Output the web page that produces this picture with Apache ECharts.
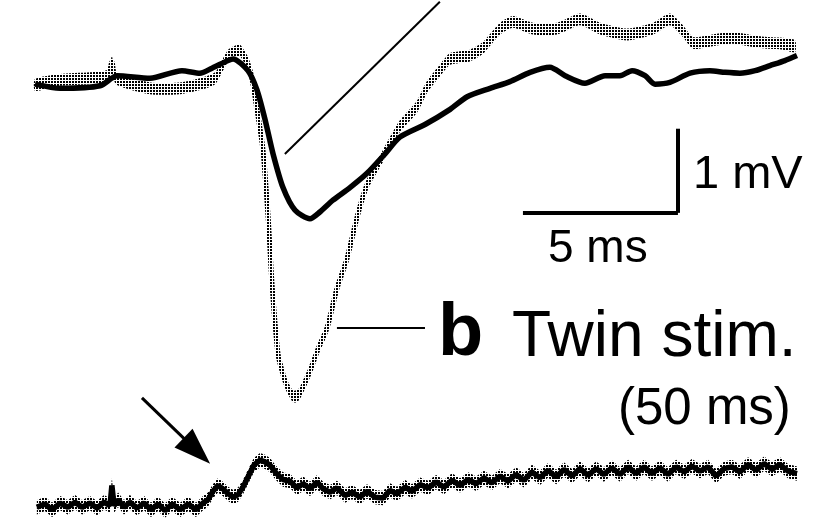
<!DOCTYPE html>
<html>
<head>
<meta charset="utf-8">
<script src="https://cdn.jsdelivr.net/npm/echarts@6/dist/echarts.min.js"></script>
<style>html,body{margin:0;padding:0;background:#fff}#c{width:839px;height:530px}</style>
</head>
<body>
<div id="c"></div>
<script>
// time in ms, potential in mV (lower trace drawn with a -5 mV offset)
var controlTrace = [[0,0],[0.81,-0.05],[2.10,-0.02],[2.65,0.10],[3.71,0.07],[4.74,0.16],[5.32,0.13],[5.71,0.19],[6.23,0.28],[6.39,0.30],[6.87,0.16],[7.16,-0.07],[7.42,-0.42],[7.68,-0.83],[8.00,-1.23],[8.39,-1.50],[8.87,-1.60],[9.19,-1.52],[9.61,-1.38],[10.16,-1.23],[10.71,-1.06],[11.29,-0.83],[11.77,-0.63],[12.58,-0.48],[13.39,-0.30],[13.94,-0.15],[14.68,-0.05],[15.32,0.03],[15.97,0.14],[16.61,0.20],[17.10,0.10],[17.74,0.01],[18.39,0.10],[18.87,0.10],[19.26,0.16],[19.68,0.10],[20.00,0.00],[20.48,0.02],[21.13,0.13],[21.77,0.16],[22.26,0.14],[22.74,0.13],[23.23,0.16],[23.71,0.22],[24.19,0.28],[24.58,0.34]];
var twinTrace = [[0,-0.01],[0.81,0.05],[1.77,0.07],[2.35,0.10],[2.48,0.26],[2.61,0.07],[3.71,-0.05],[4.68,-0.05],[5.32,0.00],[5.81,0.07],[6.23,0.34],[6.61,0.40],[6.94,0.16],[7.16,-0.30],[7.35,-0.77],[7.52,-1.58],[7.65,-2.40],[7.84,-3.21],[8.00,-3.45],[8.13,-3.59],[8.32,-3.71],[8.45,-3.71],[8.55,-3.67],[8.87,-3.41],[9.13,-3.15],[9.42,-2.90],[9.74,-2.43],[10.06,-2.08],[10.39,-1.58],[10.71,-1.20],[11.23,-0.85],[11.77,-0.50],[12.32,-0.27],[12.65,-0.03],[13.06,0.16],[13.39,0.30],[14.03,0.34],[14.45,0.43],[15.00,0.66],[15.42,0.74],[16.06,0.66],[16.84,0.66],[17.58,0.77],[18.23,0.66],[19.10,0.59],[19.94,0.66],[20.48,0.77],[20.90,0.63],[21.23,0.49],[22.00,0.53],[22.52,0.55],[23.16,0.51],[23.61,0.49],[24.13,0.48],[24.52,0.45]];
var lowerTrace = [[0.06,-5.03],[0.32,-4.99],[0.55,-5.06],[0.81,-4.98],[1.06,-5.03],[1.29,-4.97],[1.52,-5.03],[1.77,-4.98],[2.00,-5.04],[2.23,-4.97],[2.42,-5.01],[2.48,-4.77],[2.55,-5.01],[2.68,-4.94],[2.87,-5.03],[3.06,-4.97],[3.29,-5.04],[3.52,-4.98],[3.74,-5.06],[3.97,-4.99],[4.19,-5.07],[4.42,-4.99],[4.68,-5.06],[4.94,-4.99],[5.19,-5.06],[5.42,-4.98],[5.58,-4.94],[5.74,-4.84],[5.90,-4.77],[6.06,-4.81],[6.23,-4.87],[6.39,-4.91],[6.55,-4.88],[6.71,-4.79],[6.87,-4.67],[7.06,-4.53],[7.26,-4.47],[7.42,-4.49],[7.58,-4.53],[7.77,-4.62],[8.00,-4.70],[8.23,-4.72],[8.45,-4.80],[8.65,-4.75],[8.87,-4.81],[9.10,-4.73],[9.29,-4.81],[9.52,-4.85],[9.74,-4.80],[10.00,-4.89],[10.23,-4.85],[10.48,-4.91],[10.71,-4.84],[10.97,-4.91],[11.23,-4.92],[11.45,-4.83],[11.68,-4.87],[11.94,-4.79],[12.16,-4.84],[12.42,-4.76],[12.68,-4.80],[12.94,-4.73],[13.19,-4.79],[13.45,-4.71],[13.71,-4.77],[13.97,-4.70],[14.23,-4.75],[14.48,-4.68],[14.74,-4.74],[15.00,-4.66],[15.26,-4.72],[15.52,-4.64],[15.77,-4.71],[16.03,-4.61],[16.29,-4.68],[16.55,-4.59],[16.81,-4.67],[17.06,-4.58],[17.32,-4.66],[17.58,-4.57],[17.84,-4.65],[18.10,-4.57],[18.35,-4.64],[18.61,-4.56],[18.87,-4.64],[19.13,-4.55],[19.39,-4.63],[19.65,-4.55],[19.90,-4.63],[20.16,-4.56],[20.42,-4.64],[20.68,-4.55],[20.94,-4.61],[21.19,-4.54],[21.45,-4.60],[21.71,-4.55],[21.97,-4.66],[22.23,-4.57],[22.48,-4.55],[22.74,-4.61],[23.00,-4.52],[23.26,-4.59],[23.52,-4.51],[23.77,-4.58],[24.03,-4.52],[24.29,-4.60],[24.58,-4.63]];
// half-thickness (mV) of the noise envelope around each dotted trace
var twinNoise = 0.07;
var lowerNoise = 0.085;
// annotation anchors (ms, mV)
var scaleBarTime = [15.74, 20.74];
var scaleBarVolt = [-0.53, -1.53];
var pointerLine = [[8.06, -0.83], [13.06, 0.98]];
var labelLine = [[9.74, -2.90], [12.58, -2.90]];
var arrowLine = [[3.45, -3.73], [5.22, -4.36]];

var pc = document.createElement('canvas');
pc.width = 3; pc.height = 3;
var px = pc.getContext('2d');
px.fillStyle = '#fff'; px.fillRect(0,0,3,3);
px.fillStyle = '#000'; px.fillRect(0,0,2,2);
var stipple = {image: pc, repeat: 'repeat'};

function bandSeries(trace, half, smooth) {
  return {
    type: 'custom', coordinateSystem: 'cartesian2d', data: [[trace[0][0], trace[0][1]]],
    silent: true, clip: false,
    renderItem: function (params, api) {
      var pts = [], i;
      for (i = 0; i < trace.length; i++) pts.push(api.coord([trace[i][0], trace[i][1] + half]));
      for (i = trace.length - 1; i >= 0; i--) pts.push(api.coord([trace[i][0], trace[i][1] - half]));
      return {type: 'polygon', shape: {points: pts, smooth: smooth}, style: {fill: stipple, stroke: null}};
    }
  };
}

var chart = echarts.init(document.getElementById('c'), null, {renderer: 'canvas'});
var blk = '#000';
function seg(a, b, w){ return [{coord: a, lineStyle: {color: blk, width: w, type: 'solid'}}, {coord: b}]; }
chart.setOption({
  animation: false,
  backgroundColor: '#fff',
  grid: {left: 35, top: -2, width: 762.6, height: 541.8, containLabel: false},
  xAxis: {type: 'value', min: 0, max: 24.6, show: false},
  yAxis: {type: 'value', min: -5.3, max: 1.0, show: false},
  series: [
    bandSeries(twinTrace, twinNoise, 0.2),
    {type: 'line', data: twinTrace, showSymbol: false, smooth: 0.25, clip: false, silent: true,
     lineStyle: {color: stipple, width: 5}},
    bandSeries(lowerTrace, lowerNoise, 0),
    {type: 'line', data: controlTrace, showSymbol: false, smooth: 0.25, clip: false, silent: true,
     lineStyle: {color: blk, width: 5.5}},
    {type: 'line', data: lowerTrace, showSymbol: false, clip: false, silent: true,
     lineStyle: {color: blk, width: 5.5},
     markLine: {
       silent: true, symbol: 'none', label: {show: false}, animation: false,
       data: [
         seg([scaleBarTime[0], scaleBarVolt[1]], [scaleBarTime[1], scaleBarVolt[1]], 4),
         seg([scaleBarTime[1], scaleBarVolt[0]], [scaleBarTime[1], scaleBarVolt[1]], 4),
         seg(pointerLine[0], pointerLine[1], 2),
         seg(labelLine[0], labelLine[1], 2)
       ]
     }},
    {type: 'line', data: [], showSymbol: false, silent: true,
     markLine: {
       silent: true, symbol: ['none', 'triangle'], symbolSize: [26, 37], label: {show: false}, animation: false,
       itemStyle: {color: blk},
       lineStyle: {color: blk, width: 3, type: 'solid'},
       data: [seg(arrowLine[0], arrowLine[1], 3)]
     }}
  ],
  graphic: [
    {type: 'text', x: 693, y: 175.5, style: {text: '1 mV', font: '47px "Liberation Sans", Arial, sans-serif', fill: '#000', align: 'left', verticalAlign: 'middle'}},
    {type: 'text', x: 548, y: 249, style: {text: '5 ms', font: '46px "Liberation Sans", Arial, sans-serif', fill: '#000', align: 'left', verticalAlign: 'middle'}},
    {type: 'text', x: 438, y: 335, style: {text: 'b', font: 'bold 74px "Liberation Sans", Arial, sans-serif', fill: '#000', align: 'left', verticalAlign: 'middle'}},
    {type: 'text', x: 512, y: 338.6, style: {text: 'Twin stim.', font: '64px "Liberation Sans", Arial, sans-serif', fill: '#000', align: 'left', verticalAlign: 'middle'}},
    {type: 'text', x: 618, y: 410, style: {text: '(50 ms)', font: '51px "Liberation Sans", Arial, sans-serif', fill: '#000', align: 'left', verticalAlign: 'middle'}}
  ]
});
</script>
</body>
</html>
